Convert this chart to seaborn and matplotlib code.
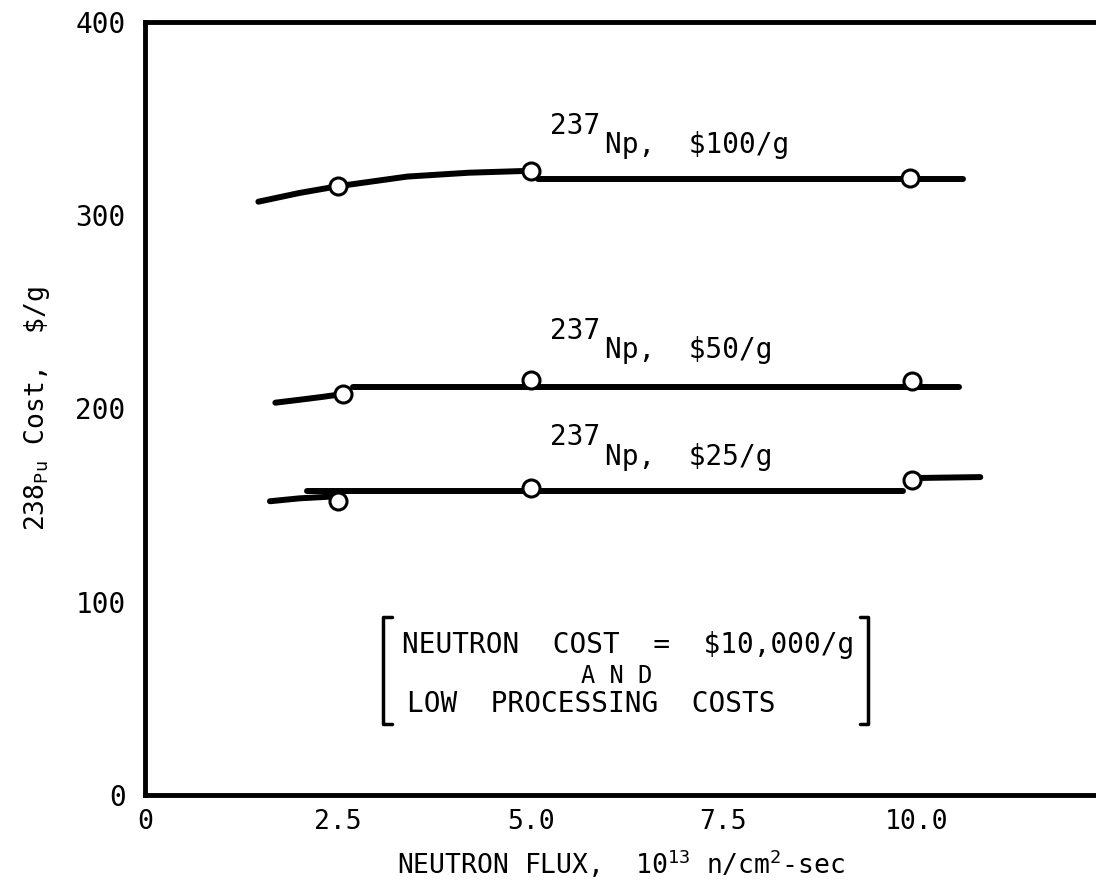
import matplotlib
matplotlib.use("Agg")
import matplotlib.pyplot as plt
import seaborn as sns
import pandas as pd

# ---- data ----
np100_curve_flux = [1.47, 2.0, 2.5, 3.4, 4.2, 5.0]
np100_curve_cost = [307, 311.5, 315, 320, 322, 323]
np100_flat_flux = [5.1, 10.6]
np100_flat_cost = [318.5, 318.5]
np100_pts_flux = [2.5, 5.0, 9.92]
np100_pts_cost = [315, 323, 319.5]

np50_curve_flux = [1.69, 2.0, 2.3, 2.57]
np50_curve_cost = [203, 204.5, 206, 207.5]
np50_flat_flux = [2.7, 10.55]
np50_flat_cost = [211, 211]
np50_pts_flux = [2.57, 5.0, 9.95]
np50_pts_cost = [207.5, 215, 214]

np25_curve_flux = [1.62, 2.0, 2.45]
np25_curve_cost = [152, 153.5, 154.5]
np25_flat_flux = [2.1, 9.83]
np25_flat_cost = [157.5, 157.5]
np25_tail_flux = [9.95, 10.83]
np25_tail_cost = [164, 164.5]
np25_pts_flux = [2.5, 5.0, 9.95]
np25_pts_cost = [152, 159, 163]

x_ticks = [0, 2.5, 5.0, 7.5, 10.0]
x_ticklabels = ["0", "2.5", "5.0", "7.5", "10.0"]
y_ticks = [0, 100, 200, 300, 400]
y_ticklabels = ["0", "100", "200", "300", "400"]

series_prices = ["\\$100/g", "\\$50/g", "\\$25/g"]
series_label_pos = [(5.25, 332), (5.25, 226), (5.25, 171)]

note_lines = ["NEUTRON  COST  =  \\$10,000/g", "A N D", "LOW  PROCESSING  COSTS"]

# ---- style ----
sns.set_style("white")
plt.rcParams["font.family"] = ["DejaVu Sans Mono", "DejaVu Sans"]
plt.rcParams["mathtext.fontset"] = "custom"
plt.rcParams["mathtext.rm"] = "DejaVu Sans Mono"
plt.rcParams["mathtext.it"] = "DejaVu Sans Mono"
plt.rcParams["mathtext.bf"] = "DejaVu Sans Mono:bold"
plt.rcParams["text.color"] = "black"
plt.rcParams["axes.labelcolor"] = "black"
plt.rcParams["xtick.color"] = "black"
plt.rcParams["ytick.color"] = "black"

fig = plt.figure(figsize=(10.96, 8.86), dpi=100)
ax = fig.add_axes([0.1323, 0.1027, 0.8677, 0.8725])

LW = 4.3
segments = [
    (np100_curve_flux, np100_curve_cost),
    (np100_flat_flux, np100_flat_cost),
    (np50_curve_flux, np50_curve_cost),
    (np50_flat_flux, np50_flat_cost),
    (np25_curve_flux, np25_curve_cost),
    (np25_flat_flux, np25_flat_cost),
    (np25_tail_flux, np25_tail_cost),
]
for fx, cy in segments:
    df = pd.DataFrame({"flux": fx, "cost": cy})
    sns.lineplot(data=df, x="flux", y="cost", color="black", linewidth=LW,
                 sort=False, estimator=None, ax=ax, zorder=2,
                 solid_capstyle="round")

for fx, cy in [(np100_pts_flux, np100_pts_cost),
               (np50_pts_flux, np50_pts_cost),
               (np25_pts_flux, np25_pts_cost)]:
    df = pd.DataFrame({"flux": fx, "cost": cy})
    sns.scatterplot(data=df, x="flux", y="cost", marker="o", s=150,
                    color="white", edgecolor="black", linewidth=2.2,
                    ax=ax, zorder=3)

# series labels
for price, (lx, ly) in zip(series_prices, series_label_pos):
    ax.text(lx, ly + 10, "237", fontsize=20, ha="left", va="baseline")
    ax.text(lx + 0.72, ly, "Np,  " + price, fontsize=20, ha="left", va="baseline")

# note with brackets
ax.text(3.33, 73.3, note_lines[0], fontsize=20, ha="left", va="baseline")
ax.text(6.12, 57.8, note_lines[1], fontsize=17, ha="center", va="baseline")
ax.text(3.40, 42.8, note_lines[2], fontsize=20, ha="left", va="baseline")
br_left, br_right, br_top, br_bot, br_serif = 3.09, 9.38, 91.9, 36.7, 0.11
ax.plot([br_left + br_serif, br_left, br_left, br_left + br_serif],
        [br_top, br_top, br_bot, br_bot], color="black", lw=2.5)
ax.plot([br_right - br_serif, br_right, br_right, br_right - br_serif],
        [br_top, br_top, br_bot, br_bot], color="black", lw=2.5)

# axes
ax.set_xlim(0, 12.33)
ax.set_ylim(0, 400)
ax.set_xticks(x_ticks)
ax.set_xticklabels(x_ticklabels)
ax.set_yticks(y_ticks)
ax.set_yticklabels(y_ticklabels)
ax.tick_params(axis="x", direction="in", length=14, width=1.5, pad=10,
               labelsize=19, color="black", labelcolor="black")
ax.tick_params(axis="y", direction="in", length=18, width=2.5, pad=14,
               labelsize=20, color="black", labelcolor="black")
for side in ["left", "bottom", "top"]:
    ax.spines[side].set_linewidth(3.5)
    ax.spines[side].set_color("black")
ax.spines["right"].set_visible(False)

ax.set_xlabel("NEUTRON FLUX,  10$^{13}$ n/cm$^{2}$-sec", fontsize=19, labelpad=9)
ax.set_ylabel("238$_{\\mathrm{Pu}}$ Cost,  \\$/g", fontsize=19)
ax.yaxis.set_label_coords(-0.098, 0.5)

fig.savefig("out.png", dpi=100)
